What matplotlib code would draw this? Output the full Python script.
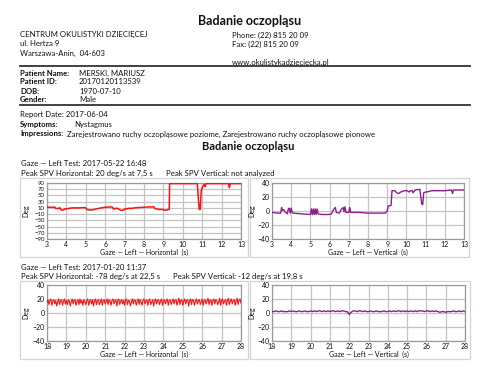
import matplotlib
matplotlib.use("Agg")
import matplotlib.pyplot as plt
from matplotlib.patches import Rectangle
from matplotlib.lines import Line2D

plt.rcParams['font.family'] = ['Lato', 'DejaVu Sans']

W, H = 500, 375

# ---------------- data ----------------
title = "Badanie oczopląsu"
clinic = ["CENTRUM OKULISTYKI DZIECIĘCEJ", "ul. Hertza 9", "Warszawa-Anin,  04-603"]
contact = ["Phone: (22) 815 20 09", "Fax: (22) 815 20 09"]
website = "www.okulistykadzieciecka.pl"
patient_labels = ["Patient Name:", "Patient ID:", "DOB:", "Gender:"]
patient_values = ["MERSKI, MARIUSZ", "20170120113539", "1970-07-10", "Male"]
report_date = "Report Date: 2017-06-04"
symptoms = "Nystagmus"
impressions = "Zarejestrowano ruchy oczopląsowe poziome, Zarejestrowano ruchy oczopląsowe pionowe"

test1_header = "Gaze — Left Test: 2017-05-22 16:48"
test1_h = "Peak SPV Horizontal: 20 deg/s at 7,5 s"
test1_v = "Peak SPV Vertical: not analyzed"
test2_header = "Gaze — Left Test: 2017-01-20 11:37"
test2_h = "Peak SPV Horizontal: -78 deg/s at 22,5 s"
test2_v = "Peak SPV Vertical: -12 deg/s at 19,8 s"

xlabel_h = "Gaze — Left — Horizontal  (s)"
xlabel_v = "Gaze — Left — Vertical  (s)"
ylabel = "Deg"

# test 1 horizontal (red)
t1h_time = [3.0, 3.3, 3.4, 3.45, 3.6, 3.65, 3.7, 3.75, 3.85, 3.9, 4.1, 4.3, 4.6, 4.9, 5.0, 5.05,
            5.2, 5.4, 5.5, 5.7, 6.0, 6.2, 6.35, 6.45, 6.5, 6.6, 6.7, 6.8, 6.9, 7.0, 7.05, 7.1,
            7.2, 7.3, 7.5, 7.7, 8.0, 8.2, 8.4, 8.5, 8.55, 8.7, 8.8, 9.0, 9.05, 9.2, 9.3, 9.32,
            10.75, 10.8, 10.85, 10.9, 10.95, 11.0, 11.05, 11.1, 11.15, 11.2, 12.35, 12.4, 12.45, 13.0]
t1h_deg = [12, 12, 13, 8, 8, 11, 6, 3, 3, 6, 8, 10, 10, 11, 10, 5,
           3, 4, 6, 9, 12, 13, 13, 6, 8, 9, 6, 2, 2, 5, 8, 6,
           9, 8, 10, 11, 12, 13, 13, 14, 8, 6, 5, 5, 2, 4, 5, 88,
           88, 40, 5, 5, 65, 75, 80, 85, 78, 88, 88, 75, 88, 88]

# test 1 vertical (purple)
t1v_time = [3.0, 3.3, 3.45, 3.5, 3.55, 3.6, 3.7, 3.8, 3.85, 3.9, 3.95, 4.0, 4.05, 4.1, 4.5, 5.0,
            5.05, 5.1, 5.15, 5.2, 5.25, 5.3, 5.35, 5.4, 5.6, 6.0, 6.1, 6.2, 6.3, 6.35, 6.5, 6.6,
            6.7, 6.75, 6.8, 6.85, 7.0, 7.05, 7.1, 7.5, 8.0, 8.5, 8.9, 9.0, 9.05, 9.2, 9.25, 9.4,
            9.5, 9.6, 9.7, 9.9, 10.05, 10.15, 10.2, 10.3, 10.35, 10.45, 10.7, 10.75, 10.8, 10.85,
            10.9, 11.0, 11.2, 11.3, 11.5, 12.0, 12.35, 12.4, 12.45, 13.0]
t1v_deg = [-2, -3, -3, 5, 1, 2, -2, -4, 3, 4, -3, 4, -2, -3, -4, -5,
           3, -5, 3, -5, 3, -5, 3, -4, -5, -5, -4, 2, 5, -2, -3, 2,
           5, -1, 6, -2, -2, 5, -2, -2, -3, -3, -3, 0, 7, 8, 29, 29,
           26, 25, 27, 29, 29, 27, 29, 29, 26, 30, 31, 20, 10, 9,
           26, 27, 28, 29, 29, 29, 30, 25, 30, 30]

# test 2 horizontal (red), sampled every 0.05 s from 18 s to 28 s
t2_start, t2_step = 18.0, 0.05
t2h_deg = [15, 19, 12, 18, 20, 11, 17, 19, 13, 18, 10, 16, 20, 12, 18, 19, 11, 17, 20, 13,
           18, 12, 19, 17, 10, 16, 20, 13, 18, 19, 11, 17, 19, 12, 20, 14, 18, 11, 19, 16,
           12, 18, 20, 11, 17, 19, 13, 19, 10, 17, 20, 12, 18, 19, 12, 16, 20, 11, 18, 19,
           13, 17, 20, 12, 19, 17, 11, 18, 20, 13, 17, 19, 10, 18, 20, 12, 17, 19, 13, 18,
           11, 19, 20, 12, 18, 17, 10, 16, 20, 13, 19, 18, 11, 17, 20, 12, 19, 16, 11, 18,
           20, 13, 17, 19, 11, 18, 20, 12, 16, 19, 10, 17, 20, 13, 18, 19, 12, 17, 20, 11,
           18, 19, 13, 17, 20, 11, 18, 19, 12, 16, 20, 13, 18, 19, 11, 17, 21, 12, 18, 19,
           11, 17, 20, 13, 18, 19, 10, 17, 20, 12, 19, 18, 11, 17, 20, 13, 18, 19, 12, 16,
           20, 11, 18, 19, 13, 17, 21, 12, 18, 19, 11, 17, 20, 13, 19, 18, 12, 16, 21, 11,
           18, 20, 13, 17, 19, 11, 18, 21, 12, 17, 20, 13, 18, 19, 11, 17, 21, 12, 18, 20,
           14]

# test 2 vertical (purple), sampled every 0.1 s from 18 s to 28 s
t2v_step = 0.1
t2v_deg = [2, 2, 3, 2, 2, 3, 2, 2, 2, 3,
           2, 3, 2, 2, 3, 2, 2, 3, 2, 2,
           3, 2, 3, 2, 3, 3, 2, 3, 2, 3,
           2, 3, 3, 2, 3, 2, 3, 3, 2, 2,
           -2, 1, 3, 3, 2, 3, 3, 2, 3, 2,
           2, 3, 2, 2, 3, 2, 2, 2, 3, 2,
           2, 3, 2, 3, 2, 3, 3, 2, 3, 2,
           3, 2, 3, 2, 3, 2, 3, 3, 3, 2,
           3, 3, 2, 3, 2, 3, 2, 1, 2, 2,
           1, 2, 2, 2, 3, 2, 2, 3, 2, 3,
           2]

t2h_time = [t2_start + i * t2_step for i in range(len(t2h_deg))]
t2v_time = [t2_start + i * t2v_step for i in range(len(t2v_deg))]

RED = "#ff1010"
PURPLE = "#8c1f8c"
DARK = "#111111"

# ---------------- figure ----------------
fig = plt.figure(figsize=(W / 100, H / 100), dpi=100)
fig.patch.set_facecolor("white")


def T(x, y, s, size=5.6, weight="normal", ha="left", **kw):
    fig.text(x / W, 1 - y / H, s, fontsize=size, fontweight=weight, ha=ha, va="center",
             color=DARK, **kw)


def HL(x0, x1, y, lw=1.3, color="#333333"):
    fig.add_artist(Line2D([x0 / W, x1 / W], [1 - y / H, 1 - y / H], lw=lw, color=color))


def BOX(x0, y0, x1, y1):
    fig.add_artist(Rectangle((x0 / W, 1 - y1 / H), (x1 - x0) / W, (y1 - y0) / H,
                             fill=False, ec="#d4d4d4", lw=0.9))


T(250, 21, title, size=9, weight="bold", ha="center")
T(20, 35, clinic[0])
T(20, 44, clinic[1])
T(20, 53, clinic[2])
T(232, 35, contact[0])
T(232, 44, contact[1])
T(232, 62, website)
HL(20, 470, 66)

for i, (lab, val) in enumerate(zip(patient_labels, patient_values)):
    y = 73 + i * 9
    T(20, y, lab, weight="bold")
    T(79, y, val)
HL(20, 470, 105)

T(20, 114, report_date)
T(20, 124, "Symptoms:", weight="bold")
T(74, 124, symptoms)
T(20, 134, "Impressions:", weight="bold")
T(67, 134, impressions)

T(248, 147, title, size=8, weight="bold", ha="center")

T(21, 164, test1_header)
T(21, 173, test1_h)
T(166, 173, test1_v)
T(21, 267, test2_header)
T(21, 276, test2_h)
T(173, 276, test2_v)

BOX(20, 178, 248, 257)
BOX(250, 178, 469, 257)
BOX(20, 281, 248, 359)
BOX(250, 281, 470, 359)


def make_ax(l, r, t, b, xlim, ylim, yticks, xlabel, ylab_x):
    ax = fig.add_axes([l / W, 1 - b / H, (r - l) / W, (b - t) / H])
    ax.set_xlim(*xlim)
    ax.set_ylim(*ylim)
    ax.set_xticks(range(xlim[0], xlim[1] + 1))
    ax.set_yticks(yticks)
    ax.grid(True, color="#c4c4c4", lw=0.9)
    ax.set_axisbelow(True)
    for sp in ax.spines.values():
        sp.set_color("#9a9a9a")
        sp.set_linewidth(0.9)
    ax.tick_params(length=0, pad=1.5, labelsize=5, colors=DARK)
    ax.set_xlabel(xlabel, fontsize=5, labelpad=0.5, color=DARK)
    fig.text(ylab_x / W, 1 - ((t + b) / 2) / H, ylabel, rotation=90, fontsize=5,
             ha="center", va="center", color=DARK)
    return ax


ax1 = make_ax(47, 241, 183, 239, (3, 13), (-90, 90), list(range(-90, 91, 20)), xlabel_h, 26)
ax1.plot(t1h_time, t1h_deg, color=RED, lw=1.1, zorder=3)
ax1.tick_params(axis="y", labelsize=4.3)

ax2 = make_ax(272, 464, 183, 239, (3, 13), (-40, 40), [-40, -20, 0, 20, 40], xlabel_v, 252)
ax2.plot(t1v_time, t1v_deg, color=PURPLE, lw=1.0, zorder=3)

ax3 = make_ax(47, 241, 285, 341, (18, 28), (-40, 40), [-40, -20, 0, 20, 40], xlabel_h, 26)
ax3.plot(t2h_time, t2h_deg, color=RED, lw=0.8, zorder=3)

ax4 = make_ax(272, 465, 285, 341, (18, 28), (-40, 40), [-40, -20, 0, 20, 40], xlabel_v, 252)
ax4.plot(t2v_time, t2v_deg, color=PURPLE, lw=1.0, zorder=3)

fig.savefig("out.png", dpi=100)
